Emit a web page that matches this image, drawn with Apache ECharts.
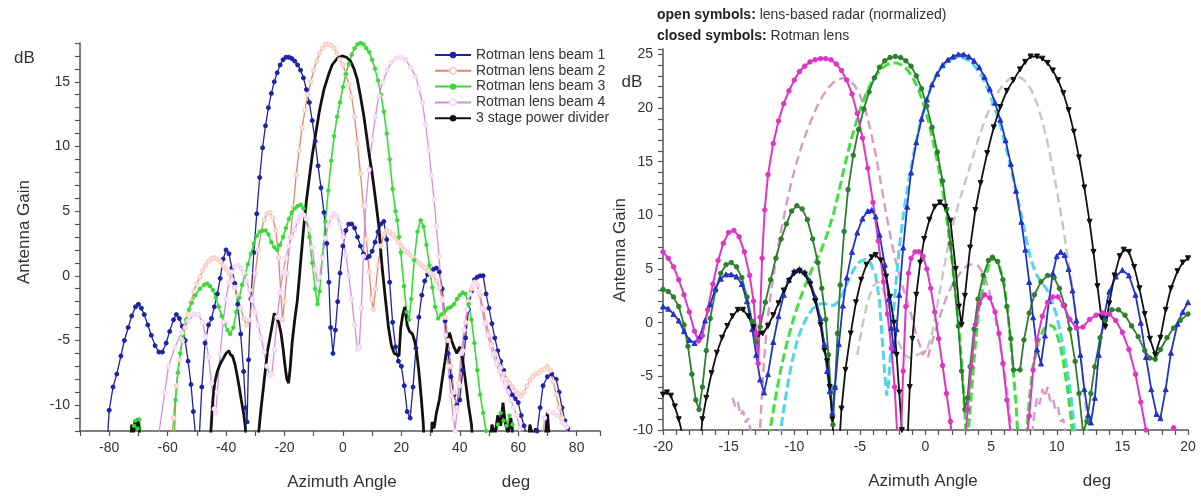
<!DOCTYPE html>
<html>
<head>
<meta charset="utf-8">
<title>Antenna gain vs azimuth</title>
<script src="https://cdn.jsdelivr.net/npm/echarts@6/dist/echarts.min.js"></script>
<style>
  html, body { margin: 0; padding: 0; background: #fff; }
  #chart { width: 1201px; height: 496px; }
</style>
</head>
<body>
<div id="chart"></div>
<script>
// ---- data: left panel, [azimuth deg, gain dB] ----
const leftNames = ["Rotman lens beam 1", "Rotman lens beam 2", "Rotman lens beam 3", "Rotman lens beam 4", "3 stage power divider"];

const leftBeam1 = [[-81,-14],[-80,-10.4],[-78.7,-8.6],[-77.4,-7.6],[-76,-6.2],[-74.8,-5.0],[-73.5,-4.0],[-72.3,-3.1],[-71,-2.4],[-70,-2.2],[-69,-2.5],[-68,-3.0],[-66.8,-3.8],[-65.6,-4.6],[-64.3,-5.4],[-63,-5.9],[-61.8,-5.9],[-60.5,-5.2],[-59.3,-4.3],[-58,-3.4],[-57,-3.0],[-56,-3.3],[-55,-3.9],[-54,-5.0],[-53,-6.6],[-52,-8.4],[-51.2,-10.5],[-50.4,-12.5],
  [-49.5,-14],[-48.3,-8.6],[-47.2,-5.2],[-46,-3.8],[-45,-3.3],[-44,-2.4],[-43,-1.4],[-42,-0.2],[-41,1.3],[-40,2.0],[-39,1.7],[-38,0.6],[-37,-0.6],[-36,-2.2],[-35,-4.5],[-34,-7.4],[-33.3,-10.2],[-32.8,-11.3],
  [-32.3,-6.5],[-31.5,-1.8],[-30.5,1.8],[-29.5,4.8],[-28.5,7.6],[-27.5,9.9],[-26.5,11.6],[-25.5,13.0],[-24.5,14.1],[-23.5,15.0],[-22.5,15.7],[-21.5,16.3],[-20.5,16.7],[-19.5,16.9],[-18.5,16.9],[-17.5,16.8],[-16.5,16.6],[-15.5,16.3],[-14.5,15.9],[-13.5,15.3],[-12.5,14.4],[-11.5,13.4],[-10.5,12.0],[-9.5,10.4],[-8.5,8.5],[-7.5,6.8],[-6.5,4.9],[-5.5,2.5],[-4.8,-0.5],[-4.2,-4.0],[-3.4,-6.0],[-2.6,-4.2],[-1.8,-2.0],[-1,0.2],[0,2.3],[1,3.5],[2,4.0],[3,4.0],[4,3.7],[5,3.0],[6,2.3],[7,1.7],[8,1.4],[9,1.5],[10,1.9],[11,2.6],[12,3.4],[13,4.0],[14,4.2],[15,2.8],[16,-0.5],[17,-3.6],[18,-5.5],[19,-6.6],[20,-7.0],[21,-8.5],[22,-10.5],[23,-11.0],[24,-8.6],[25,-5.6],[26,-3.2],[27,-1.5],[28,-0.4],[29,0.1],[30,0.2],[31,0.5],[32,0.6],[33,0.3],[34,-1.0],[35,-3.5],[36,-6.0],[37,-7.8],[38,-9.2],[39,-10.0],[40,-9.6],[41,-7.3],[42,-4.8],[43,-2.6],[44,-1.2],[45,-0.3],[46,-0.1],[47,0.0],[48,0.0],[49,-1.4],[50,-2.5],[51,-3.7],[52,-4.8],[53,-5.8],[54,-6.6],[55,-7.3],[56,-8.0],[57,-8.6],[58,-9.2],[59,-9.5],[60,-9.8],[61,-10.8],[62,-11.6],[63,-12.5],[64,-14],
  [65.5,-14],[66.5,-12],[67.5,-10.2],[68.5,-8.5],[70,-7.8],[71.5,-7.6],[73,-8.0],[74,-9.0],[75,-10.2],[76,-11.2],[77,-11.8],[78,-12.8]];

const leftBeam2 = [[-59,-14],[-58,-11],[-57,-8.5],[-56,-6.5],[-55,-5],[-54,-4],[-53,-3],[-52,-2],[-51,-1.2],[-50,-0.6],[-49,-0.1],[-48,0.4],[-47,0.8],[-46,1.1],[-45,1.3],[-44,1.4],[-43,1.3],[-42,1.1],[-41,0.8],[-40,0.5],[-39,0.2],[-38,-0.3],[-37,-0.9],[-36,-1.6],[-35,-2.5],[-34,-3.3],[-33,-3.8],[-32,-3.4],[-31,-1.8],[-30,0.2],[-29,2.0],[-28,3.4],[-27,4.3],[-26,4.8],[-25,4.9],[-24,4.5],[-23,3.5],[-22,1.4],[-21.3,-1.2],[-20.7,-3.4],[-20,-2.0],[-19.2,0.2],[-18,3.0],[-17,5.3],[-16,7.8],[-15,9.7],[-14,11.4],[-13,12.8],[-12,14.0],[-11,15.0],[-10,15.9],[-9,16.6],[-8,17.2],[-7,17.6],[-6,17.9],[-5,17.9],[-4,17.8],[-3,17.6],[-2,17.2],[-1,16.7],[0,16.3],[1,15.6],[2,14.8],[3,13.8],[4,12.3],[5,10.2],[6,7.9],[7,5.4],[8,2.8],[9,0.3],[9.8,-1.8],[10.4,-2.6],[11.2,-1.0],[12,0.8],[13,2.3],[14,3.2],[15,3.5],[16,3.4],[17,3.2],[18,2.9],[19,2.6],[20,2.3],[21,2.0],[22,1.8],[23,1.6],[24,1.4],[25,1.2],[26,1.0],[27,0.8],[28,0.6],[29,0.4],[30,0.2],[31,0],[32,-0.4],[33,-0.9],[34,-1.8],[35,-3.2],[36,-5.0],[37,-7.0],[38,-9.0],[39,-10.2],[40,-8.5],[41,-5.8],[42,-3.6],[43,-2.0],[44,-1.0],[45,-0.5],[46,-0.7],[47,-1.5],[48,-2.6],[49,-3.6],[50,-4.5],[51,-5.3],[52,-6.0],[53,-6.6],[54,-7.1],[55,-7.6],[56,-8.0],[57,-8.3],[58,-8.6],[59,-8.9],[60,-9.1],[61,-9.3],[62,-9.0],[63,-8.5],[64,-8.1],[65,-7.8],[66,-7.6],[67,-7.5],[68,-7.3],[69,-7.2],[70,-7.0],[71,-7.3],[72,-8.2],[73,-9.2],[74,-10.2],[75,-11.0],[76,-11.5],[77,-12.5],[78,-14]];

const leftBeam3 = [[-72.5,-14],[-71.5,-11.6],[-71,-11.2],[-70.3,-11.8],[-69.7,-11.1],[-69,-12.5],[-68.5,-14],[-58,-14],[-57.3,-9.6],[-56.5,-7.5],[-55.7,-6.0],[-54.7,-4.6],[-53.7,-3.4],[-52.7,-2.6],[-51.8,-2.1],[-50.5,-1.5],[-49,-1.0],[-47.5,-0.7],[-46.5,-0.6],[-45.5,-0.8],[-44.5,-1.1],[-43.5,-1.7],[-42.5,-2.4],[-41.5,-3.1],[-40.5,-3.7],[-39.5,-4.2],[-38.6,-4.5],[-37.5,-4.0],[-36.5,-2.8],[-35.5,-1.7],[-34.5,-0.7],[-33.5,0.1],[-32.5,0.9],[-31.5,1.7],[-30.5,2.5],[-29.5,3.1],[-28.5,3.4],[-27.5,3.5],[-26.5,3.5],[-25.5,3.2],[-24.5,2.6],[-23.5,2.2],[-22.5,2.0],[-21.5,2.4],[-20.5,3.0],[-19.5,3.7],[-18.5,4.4],[-17.5,4.9],[-16.5,5.2],[-15.5,5.4],[-14.5,5.5],[-13.5,5.2],[-12.5,4.4],[-11.5,3.0],[-10.5,1.0],[-9.5,-1.0],[-8.7,-2.2],[-8,-1.2],[-7,1.5],[-6,4.2],[-5,6.6],[-4,8.9],[-3,10.8],[-2,12.3],[-1,13.4],[0,14.6],[1,15.6],[2,16.4],[3,17.1],[4,17.6],[5,17.9],[6,18.0],[7,17.9],[8,17.6],[9,17.3],[10,16.7],[11,16.0],[12,15.1],[13,14.0],[14,12.7],[15,11.0],[16,9.0],[17,6.7],[18,5.0],[18.6,4.3],[19.2,3.0],[19.8,1.8],[20.9,-0.8],[21.8,-2.8],[22.6,-3.4],[23.4,-1.8],[24.4,1.2],[25.5,3.4],[26.6,4.3],[27.6,3.8],[28.6,2.4],[29.6,0.8],[30.6,-0.9],[31.6,-2.4],[32.6,-3.3],[33.6,-3.0],[35,-2.7],[36,-2.5],[37,-2.4],[38,-2.2],[39,-1.8],[40,-1.5],[41,-1.3],[42,-1.4],[43,-2.2],[44,-3.4],[45,-5.2],[46,-7.3],[47,-9.2],[48,-10.6],[49,-12],[50,-14],[52,-14],[53,-11.5],[54,-10.6],[55,-11.2],[56,-11.6],[57,-10.8],[58,-11.5],[59,-12.5],[60,-14]];

const leftBeam4 = [[-64,-14],[-63,-12.2],[-61,-9.0],[-59.7,-7.0],[-57.5,-5.5],[-55.2,-4.4],[-53,-3.5],[-51,-3.0],[-49.5,-3.0],[-48,-3.6],[-47,-4.7],[-46,-6.3],[-45,-8.3],[-44,-10.3],[-43.5,-10.6],[-43,-9.0],[-42,-6.0],[-41,-3.6],[-40,-1.8],[-39,-0.5],[-38,0.3],[-37,0.7],[-36,0.8],[-35,0.6],[-34,0.2],[-33,-0.4],[-32,-1.1],[-31,-1.9],[-30,-2.8],[-29,-3.8],[-28,-4.8],[-27,-5.9],[-26,-7.0],[-25,-7.7],[-24.3,-7.6],[-23.5,-5.7],[-22.5,-3.2],[-21.5,-1.3],[-20.5,0.3],[-19.5,1.4],[-18.5,2.3],[-17.5,3.0],[-16.5,3.6],[-15.5,4.2],[-14.5,4.6],[-13.5,4.7],[-12.5,4.4],[-11.5,3.6],[-10.5,2.2],[-9.5,0.5],[-8.7,-0.6],[-8,-0.1],[-7,1.4],[-6,2.9],[-5,3.9],[-4,4.5],[-3,4.8],[-2,4.6],[-1,4.0],[0,3.0],[1,1.6],[2,0],[3,-1.8],[4,-3.8],[5,-5.7],[5.6,-5.5],[6.3,-2.5],[7,1.5],[7.8,5.4],[8.9,8.2],[10,10.5],[11.1,12.3],[12.3,13.9],[13.7,15.0],[15.2,15.9],[16.6,16.5],[18,16.8],[19.7,16.9],[21.5,16.7],[23.2,16.1],[24.9,15.4],[26,14.5],[27.2,13.4],[28.3,11.7],[29.4,9.7],[30.3,7.8],[31.2,5.9],[32,3.8],[32.9,1.5],[34,-1.9],[35,-4.6],[36,-7.0],[37,-9.3],[37.8,-11],[38.4,-12],[39,-10.5],[39.6,-8.3],[40.5,-6],[41.5,-4.2],[42.5,-2.6],[43.5,-1.4],[44.5,-0.7],[45.5,-0.6],[46.5,-1.2],[47.5,-2.5],[48.5,-3.7],[49.5,-4.6],[50.5,-5.4],[51.5,-6.1],[52.5,-6.8],[53.5,-7.4],[54.5,-8.0],[55.5,-8.5],[56.5,-9.0],[57.5,-9.6],[58.5,-10.2],[59.5,-10.8],[60.5,-11.8],[61.5,-13],[62,-14],[68,-14],[69,-11],[70.5,-10.5],[72,-10.6],[73.5,-10.8],[75,-11.3],[76.5,-11.7],[77.5,-12.5],[78,-14]];

const leftDivider = [[-73,-14],[-72.3,-11.5],[-71.8,-12.4],[-71.2,-11.2],[-70.7,-11.9],[-70.2,-11.0],[-69.6,-12.2],[-69,-14],
  [-46,-14],[-45.2,-12],[-44.5,-9.5],[-43.9,-8.3],[-43,-7.4],[-42,-6.8],[-41,-6.4],[-40,-6.0],[-39,-5.8],[-38.5,-6.1],[-37.8,-6.2],[-37,-6.8],[-36.3,-7.6],[-35.5,-8.6],[-34.8,-9.6],[-34,-10.6],[-33.4,-11.7],[-33,-14],
  [-29.5,-14],[-28.8,-12],[-28,-10.2],[-27.3,-8.8],[-26.5,-7.2],[-25.8,-5.8],[-25,-4.8],[-24.2,-3.8],[-23.5,-2.9],[-22.8,-3.2],[-22,-3.6],[-21.2,-4.4],[-20.5,-5.6],[-19.8,-7.0],[-19.2,-8.0],[-18.6,-8.3],[-18,-7.0],[-17.4,-5.2],[-16.5,-3.4],[-15.6,-1.9],[-14.5,1.0],[-13.4,3.8],[-12.5,5.8],[-11.6,7.4],[-10.5,9.3],[-9.3,11.0],[-8,12.8],[-6.5,14.4],[-5,15.5],[-3.7,16.3],[-2,16.8],[-0.3,17.0],[1.2,16.9],[2.6,16.6],[3.8,16.0],[4.9,15.2],[6,13.9],[7.2,12.3],[8,11.0],[8.9,9.5],[9.8,8.2],[10.6,6.9],[11.5,5.3],[12.3,3.8],[13.4,0.7],[14.6,-1.9],[15.6,-4.0],[16.6,-5.4],[17.6,-6.0],[18.5,-6.1],[19.2,-6.2],[19.8,-4.0],[20.5,-3.0],[21.2,-2.4],[22,-3.8],[22.8,-4.3],[23.8,-4.5],[24.5,-5.0],[25.2,-5.8],[26,-7.4],[26.8,-9.4],[27.5,-11.4],[28,-14],
  [30,-14],[30.5,-11.3],[31.2,-11.8],[32,-10.6],[33,-9.6],[34,-8.0],[35,-6.5],[36,-4.9],[36.5,-4.4],[37.2,-5.0],[38,-5.5],[39,-6.0],[40,-5.5],[41,-6.5],[42,-8.2],[43,-10.0],[44,-11.5],[44.8,-14],
  [50,-14],[51,-11.5],[52,-12.4],[53,-10.8],[54,-11.6],[54.8,-9.8],[55.5,-11.3],[56.5,-12.2],[57.5,-11.0],[58.2,-12.5],[59,-14],[63,-14],[64,-11.5],[65,-12.5],[66,-11.8],[67,-12.6],[68,-14],[69.5,-12],[70,-10.5],[70.5,-12.2],[71,-14]];

// ---- data: right panel, closed symbols (Rotman lens) ----
const rightMagenta = [[-20,6.6],[-19.6,6.0],[-19.2,5.2],[-18.8,4.0],[-18.4,2.6],[-18,1.0],[-17.6,-0.8],[-17.3,-1.7],[-17,-1.2],[-16.6,1.2],[-16.2,3.6],[-15.8,5.8],[-15.4,7.4],[-15,8.4],[-14.6,8.6],[-14.2,8.0],[-13.8,6.6],[-13.4,4.4],[-13.1,2.0],[-12.9,-1.0],[-12.75,-3.8],[-12.6,0.5],[-12.45,6.0],[-12.25,10.5],[-12,13.8],[-11.6,16.7],[-11.2,18.8],[-10.8,20.4],[-10.4,21.6],[-10,22.6],[-9.6,23.4],[-9.2,23.9],[-8.8,24.3],[-8.4,24.5],[-8,24.6],[-7.6,24.6],[-7.2,24.5],[-6.8,24.1],[-6.4,23.5],[-6,22.6],[-5.6,21.3],[-5.2,19.5],[-4.8,17.2],[-4.4,14.4],[-4,11.2],[-3.6,7.6],[-3.2,3.8],[-2.9,0.8],[-2.6,-2.4],[-2.35,-6.0],[-2.15,-10.5],[-2,-14],
  [-1.9,-12],[-1.7,-4.5],[-1.5,1.5],[-1.3,4.6],[-1.1,6.0],[-0.8,6.6],[-0.5,6.6],[-0.2,6.2],[0.1,5.0],[0.4,3.2],[0.7,1.0],[1,-1.5],[1.3,-4.0],[1.6,-6.6],[1.9,-9.2],[2.1,-12],
  [3,-12],[3.2,-8.1],[3.5,-4.1],[3.8,-0.2],[4.1,1.8],[4.5,2.6],[4.9,2.3],[5.3,1.0],[5.6,-1.0],[5.9,-3.8],[6.2,-7.2],[6.5,-10.5],[6.7,-12],
  [7.6,-12],[7.9,-8.7],[8.2,-4.4],[8.5,-1.6],[8.9,0.6],[9.3,1.9],[9.7,2.4],[10.1,2.4],[10.5,1.6],[11,0.3],[11.5,-0.5],[12,-0.4],[12.5,0.3],[13,0.7],[13.5,0.9],[14,0.8],[14.5,0.2],[15,-0.9],[15.5,-2.5],[16,-4.8],[16.4,-7.4],[16.8,-10.0],[17.2,-13],
  [18.6,-13],[18.75,-10.5],[18.9,-9.8],[19.05,-10.5],[19.2,-13]];

const rightGreen = [[-20,3.1],[-19.6,2.9],[-19.2,2.4],[-18.8,1.5],[-18.4,-0.2],[-18.1,-2.2],[-17.8,-4.8],[-17.5,-7.2],[-17.25,-8.1],[-17,-6.0],[-16.7,-2.6],[-16.4,0.4],[-16,3.0],[-15.6,4.6],[-15.2,5.4],[-14.8,5.6],[-14.4,5.2],[-14,4.2],[-13.6,2.4],[-13.2,0.1],[-12.9,-1.8],[-12.6,-0.4],[-12.2,1.9],[-11.8,4.0],[-11.4,6.0],[-11,7.8],[-10.6,9.2],[-10.2,10.4],[-9.8,10.9],[-9.4,10.6],[-9,9.6],[-8.6,7.8],[-8.2,5.6],[-7.9,3.2],[-7.6,0.3],[-7.4,-3.0],[-7.2,-6.5],[-7.05,-9.5],[-6.9,-6.0],[-6.7,-1.0],[-6.5,3.5],[-6.2,8.5],[-5.9,12.4],[-5.5,15.6],[-5.1,18.0],[-4.7,19.9],[-4.3,21.5],[-3.9,22.8],[-3.5,23.8],[-3.1,24.4],[-2.7,24.7],[-2.3,24.8],[-1.9,24.7],[-1.5,24.4],[-1.1,23.9],[-0.7,23.0],[-0.3,21.8],[0.1,20.2],[0.5,18.2],[0.9,15.9],[1.3,13.2],[1.6,10.6],[1.9,7.4],[2.2,3.6],[2.5,-0.3],[2.75,-4.5],[3,-8.1],[3.2,-7.0],[3.4,-4.1],[3.7,-0.6],[4,2.2],[4.4,4.4],[4.8,5.8],[5.1,6.1],[5.5,5.7],[5.9,4.0],[6.2,1.5],[6.5,-1.5],[6.7,-4.4],[7.2,-4.4],[7.5,-1.6],[7.9,0.9],[8.3,2.6],[8.8,3.8],[9.3,4.4],[9.8,4.2],[10.2,3.2],[10.6,1.6],[11,-0.6],[11.4,-3.6],[11.7,-6.6],[12,-10.2],
  [12.3,-9.2],[12.6,-6.6],[12.9,-4.1],[13.3,-1.4],[13.7,0.2],[14.2,1.2],[14.7,1.2],[15.2,0.7],[15.7,-0.3],[16.2,-1.3],[16.7,-2.6],[17.1,-3.3],[17.5,-3.4],[17.9,-2.5],[18.4,-1.4],[18.9,-0.5],[19.4,0.2],[20,0.8]];

const rightBlue = [[-20,1.5],[-19.6,1.3],[-19.2,0.8],[-18.8,0.2],[-18.4,-0.8],[-18,-1.6],[-17.6,-1.9],[-17.2,-1.3],[-16.8,0.2],[-16.4,1.7],[-16,3.2],[-15.6,4.1],[-15.2,4.5],[-14.8,4.5],[-14.4,4.3],[-14,3.6],[-13.6,2.0],[-13.2,-0.6],[-12.9,-3.0],[-12.6,-5.3],[-12.3,-6.5],[-12,-4.8],[-11.6,-1.8],[-11.2,0.6],[-10.8,2.6],[-10.4,4.0],[-10,4.8],[-9.6,5.0],[-9.2,4.7],[-8.8,3.9],[-8.4,2.4],[-8,0.4],[-7.7,-2.0],[-7.5,-4.5],[-7.3,-6.4],[-7.1,-8.4],[-6.9,-6.0],[-6.6,-2.0],[-6.3,1.6],[-6,4.2],[-5.6,6.6],[-5.2,8.4],[-4.8,9.7],[-4.4,10.4],[-4.1,10.5],[-3.8,9.9],[-3.5,8.2],[-3.1,5.4],[-2.8,2.2],[-2.6,-0.5],[-2.4,-2.6],[-2.2,-0.6],[-2,2.6],[-1.7,7.0],[-1.4,10.8],[-1.1,14.0],[-0.7,16.8],[-0.3,19.0],[0.1,20.8],[0.5,22.2],[0.9,23.2],[1.3,24.0],[1.7,24.5],[2.1,24.8],[2.5,25.0],[2.9,25.0],[3.3,24.8],[3.7,24.4],[4.1,23.8],[4.5,22.9],[4.9,21.8],[5.3,20.5],[5.7,18.9],[6.1,17.0],[6.5,14.8],[6.9,12.3],[7.3,9.4],[7.6,6.8],[7.9,3.8],[8.2,0.5],[8.5,-2.5],[8.8,-3.8],[9.1,-1.2],[9.4,2.0],[9.7,4.6],[10,6.2],[10.3,6.6],[10.6,6.3],[10.9,5.0],[11.2,3.0],[11.5,0.2],[11.8,-3.0],[12.1,-6.2],[12.4,-8.6],[12.6,-9.3],[12.9,-7.0],[13.2,-3.0],[13.6,0.6],[14,2.9],[14.5,4.3],[15,4.9],[15.5,4.4],[16,2.6],[16.4,0.0],[16.8,-3.2],[17.2,-6.2],[17.6,-8.5],[17.9,-8.9],[18.3,-6.2],[18.7,-2.8],[19.2,-0.1],[19.6,1.0],[20,1.9]];

const rightBlack = [[-20,-6.7],[-19.7,-6.5],[-19.4,-6.8],[-19.1,-7.8],[-18.8,-9.0],[-18.5,-10.5],[-18.3,-12],
  [-17.2,-12],[-17,-9.0],[-16.7,-7.0],[-16.3,-4.7],[-15.9,-2.8],[-15.5,-1.4],[-15.1,-0.3],[-14.7,0.6],[-14.3,1.2],[-13.9,1.2],[-13.5,0.6],[-13.1,-0.4],[-12.7,-1.1],[-12.4,-1.0],[-12,-0.3],[-11.6,0.7],[-11.2,1.8],[-10.8,3.0],[-10.4,3.9],[-10,4.6],[-9.6,4.8],[-9.2,4.5],[-8.8,3.6],[-8.4,2.0],[-8,-0.2],[-7.7,-2.6],[-7.5,-3.6],[-7.3,-6.0],[-7.1,-9.0],[-6.95,-12],
  [-6.6,-12],[-6.4,-8.0],[-6.1,-4.4],[-5.7,-1.0],[-5.3,1.9],[-4.9,4.0],[-4.5,5.4],[-4.1,6.1],[-3.8,6.3],[-3.4,5.8],[-3,4.3],[-2.7,2.4],[-2.4,0.0],[-2.2,-3.0],[-2,-6.5],[-1.8,-10.0],[-1.7,-12],
  [-1.4,-12],[-1.2,-6.0],[-1,-1.5],[-0.7,2.6],[-0.4,5.6],[-0.1,7.8],[0.3,9.6],[0.7,10.8],[1.1,11.2],[1.5,10.8],[1.9,9.5],[2.3,5.0],[2.55,1.5],[2.75,-0.2],[3,2.5],[3.4,7.0],[3.8,10.5],[4.2,13.0],[4.7,15.8],[5.2,18.2],[5.7,20.1],[6.2,21.6],[6.7,22.6],[7.2,23.6],[7.6,24.3],[8,24.8],[8.5,24.8],[8.9,24.6],[9.3,24.2],[9.7,23.5],[10.1,22.6],[10.5,21.4],[10.9,19.8],[11.3,17.8],[11.7,15.4],[12.1,12.6],[12.5,9.4],[12.8,6.6],[13.1,3.4],[13.4,0.5],[13.7,-0.4],[14,1.8],[14.4,4.4],[14.8,6.2],[15.1,6.8],[15.5,6.6],[15.9,5.2],[16.3,3.2],[16.7,0.8],[17.1,-1.5],[17.5,-3.0],[17.9,-1.4],[18.3,1.2],[18.7,3.2],[19.2,4.8],[19.6,5.6],[20,6.0]];

// ---- data: right panel, open symbols (lens-based radar, normalized) ----
const rightPinkOpen = [[-14.7,-7.0],[-14.5,-7.8],[-14.3,-7.4],[-14.1,-8.6],[-13.9,-8.2],[-13.7,-9.3],[-13.5,-8.9],[-13.3,-10.2],[-13.1,-12],
  [-12.7,-12],[-12.5,-7.5],[-12.3,-3.5],[-12.1,-0.5],[-11.8,2.6],[-11.4,5.8],[-11,8.6],[-10.6,11.0],[-10.2,13.2],[-9.8,15.0],[-9.4,16.6],[-9,18.0],[-8.6,19.2],[-8.2,20.3],[-7.8,21.2],[-7.4,21.9],[-7,22.4],[-6.6,22.7],[-6.2,22.8],[-5.8,22.6],[-5.4,22.1],[-5,21.2],[-4.6,19.9],[-4.2,18.0],[-3.8,15.7],[-3.4,13.0],[-3,10.2],[-2.6,7.6],[-2.2,5.4],[-1.8,3.6],[-1.4,2.0],[-1,0.4],[-0.7,-1.2],[-0.4,-2.2],[-0.2,-3.0],[0,-2.6],[0.2,-3.2],[0.4,-2.2],[0.8,-0.6],[1.2,1.0],[1.6,2.4],[2,3.4],[2.4,4.2],[2.8,4.9],[3.2,5.3],[3.6,5.5],[4,5.3],[4.4,4.6],[4.8,3.2],[5.2,1.2],[5.6,-1.4],[6,-4.4],[6.3,-7.2],[6.6,-10.5],[6.8,-12],
  [8,-12],[8.3,-8.4],[8.5,-7.0],[8.7,-7.6],[8.9,-6.2],[9.1,-6.9],[9.3,-6.0],[9.5,-7.3],[9.7,-7.0],[9.9,-8.2],[10.1,-7.9],[10.3,-9.2],[10.5,-9.0],[10.7,-10.5],[10.9,-12]];

const rightGrayOpen = [[-5.2,-3.0],[-4.8,-0.2],[-4.4,2.0],[-4,3.4],[-3.6,3.8],[-3.2,3.0],[-2.8,1.4],[-2.4,-0.4],[-2,-2.0],[-1.6,-3.0],[-1.2,-3.3],[-0.8,-3.1],[-0.3,-2.8],[0.1,-2.6],[0.5,-1.0],[0.9,1.6],[1.3,4.4],[1.7,7.0],[2.1,9.2],[2.5,11.0],[2.9,12.6],[3.3,14.2],[3.7,15.8],[4.1,17.4],[4.5,18.8],[4.9,20.0],[5.3,21.0],[5.7,21.8],[6.1,22.4],[6.5,22.8],[6.9,22.9],[7.3,22.8],[7.7,22.4],[8.1,21.6],[8.5,20.4],[8.9,18.8],[9.3,16.8],[9.7,14.4],[10.1,11.7],[10.5,8.8],[10.9,5.6],[11.3,2.3],[11.6,-0.6],[11.9,-4.0],[12.2,-8.0],[12.4,-12]];

const rightGreenOpen = [[-12.2,-12],[-11.8,-9.7],[-11.4,-6.8],[-11,-4.2],[-10.5,-1.6],[-10,0.6],[-9.5,2.4],[-9,4.0],[-8.5,5.4],[-8,6.6],[-7.5,8.2],[-7,10.2],[-6.6,12.2],[-6.2,14.4],[-5.8,16.4],[-5.4,18.2],[-5,19.8],[-4.6,21.1],[-4.2,22.2],[-3.8,23.0],[-3.4,23.6],[-3,24.0],[-2.6,24.2],[-2.2,24.2],[-1.8,24.0],[-1.4,23.6],[-1,22.9],[-0.6,21.9],[-0.2,20.6],[0.2,18.9],[0.6,16.8],[1,14.4],[1.4,11.6],[1.7,9.0],[2,6.0],[2.3,2.6],[2.6,-1.2],[2.8,-4.6],[3,-8.4],[3.15,-12],
  [3.3,-12],[3.5,-6.5],[3.8,-2.0],[4.1,1.6],[4.5,4.0],[4.9,5.6],[5.2,6.0],[5.6,5.4],[6,3.6],[6.3,0.6],[6.6,-3.2],[6.9,-7.6],[7.1,-12],
  [7.6,-12],[7.9,-7.2],[8.2,-4.0],[8.6,-1.8],[9,-0.6],[9.4,-0.2],[9.8,-0.4],[10.2,-1.8],[10.5,-3.6],[10.8,-6.0],[11.1,-9.0],[11.3,-12]];

const rightCyanOpen = [[-11.4,-12],[-11,-9.7],[-10.6,-6.5],[-10.2,-3.8],[-9.8,-1.8],[-9.4,-0.4],[-9,0.6],[-8.6,1.3],[-8.2,1.7],[-7.8,1.8],[-7.4,1.7],[-7,1.6],[-6.6,2.0],[-6.2,3.0],[-5.8,4.2],[-5.4,5.1],[-5,5.7],[-4.6,5.9],[-4.2,5.6],[-3.8,4.4],[-3.5,2.0],[-3.3,-1.5],[-3.1,-4.8],[-2.95,-6.8],[-2.8,-5.5],[-2.6,-1.5],[-2.3,3.0],[-2,7.0],[-1.6,10.8],[-1.2,13.8],[-0.8,16.4],[-0.4,18.6],[0,20.4],[0.4,21.9],[0.8,23.0],[1.2,23.8],[1.6,24.3],[2,24.6],[2.4,24.7],[2.8,24.7],[3.2,24.5],[3.6,24.1],[4,23.5],[4.4,22.7],[4.8,21.6],[5.2,20.3],[5.6,18.8],[6,17.0],[6.4,15.0],[6.8,12.8],[7.2,10.6],[7.6,8.2],[8,6.0],[8.4,4.6],[8.8,3.8],[9.2,3.2],[9.6,2.2],[10,0.6],[10.4,-1.6],[10.8,-4.4],[11.1,-7.0],[11.4,-10.5],[11.5,-12]];

// axis tick labels
const leftXLabels = [-80, -60, -40, -20, 0, 20, 40, 60, 80];
const leftYLabels = [-10, -5, 0, 5, 10, 15];
const rightXLabels = [-20, -15, -10, -5, 0, 5, 10, 15, 20];
const rightYLabels = [-10, -5, 0, 5, 10, 15, 20, 25];

const FONT = "'Liberation Sans', Arial, sans-serif";
const TXT = "#333";

function axisBase() {
  return {
    type: "value",
    splitLine: { show: false },
    axisLine: { show: true, onZero: false, lineStyle: { color: "#555", width: 1.5 } },
    axisTick: { show: true, length: 5, lineStyle: { color: "#555", width: 1.2 } },
    axisLabel: { color: TXT, fontSize: 14, fontFamily: FONT, margin: 10 },
  };
}
function onlyLabels(list) {
  return (v) => (list.indexOf(Math.round(v * 100) / 100) >= 0 ? String(v) : "");
}

function lineSeries(name, data, color, opts) {
  return Object.assign(
    {
      name: name,
      type: "line",
      data: data,
      color: color,
      showSymbol: true,
      symbol: "circle",
      symbolSize: 4,
      clip: true,
      animation: false,
      lineStyle: { color: color, width: 1.3 },
      itemStyle: { color: color, borderColor: color },
      emphasis: { disabled: true },
    },
    opts || {}
  );
}

let myChart = echarts.init(document.getElementById("chart"), null, { renderer: "canvas" });

let option = {
  backgroundColor: "#fff",
  animation: false,
  grid: [
    { left: 80, right: 601, top: 43, bottom: 65 },
    { left: 663, right: 13, top: 49, bottom: 66 },
  ],
  xAxis: [
    Object.assign(axisBase(), { gridIndex: 0, min: -90, max: 88, interval: 10,
      axisLabel: Object.assign(axisBase().axisLabel, { formatter: onlyLabels(leftXLabels) }) }),
    Object.assign(axisBase(), { gridIndex: 1, min: -20, max: 20, interval: 1,
      axisLabel: Object.assign(axisBase().axisLabel, { formatter: onlyLabels(rightXLabels) }) }),
  ],
  yAxis: [
    Object.assign(axisBase(), { gridIndex: 0, min: -12, max: 18, interval: 1,
      axisLabel: Object.assign(axisBase().axisLabel, { formatter: onlyLabels(leftYLabels) }) }),
    Object.assign(axisBase(), { gridIndex: 1, min: -10, max: 25.5, interval: 1,
      axisLabel: Object.assign(axisBase().axisLabel, { formatter: onlyLabels(rightYLabels) }) }),
  ],
  legend: {
    data: leftNames,
    orient: "vertical",
    left: 434,
    top: 48,
    padding: 0,
    itemWidth: 36,
    itemHeight: 8,
    itemGap: 1.8,
    selectedMode: false,
    textStyle: { color: TXT, fontSize: 14, fontFamily: FONT, lineHeight: 14 },
  },
  series: [
    // left panel
    lineSeries(leftNames[0], leftBeam1, "#1e22a8", { symbolSize: 4 }),
    lineSeries(leftNames[1], leftBeam2, "#e8806c", { symbol: "emptyCircle", symbolSize: 3.5,
      itemStyle: { color: "#f7d3cb", borderColor: "#e8806c", borderWidth: 1 } }),
    lineSeries(leftNames[2], leftBeam3, "#34dc34", { symbolSize: 3.5, lineStyle: { color: "#34dc34", width: 1.6 } }),
    lineSeries(leftNames[3], leftBeam4, "#d88cd8", { symbol: "emptyCircle", symbolSize: 3.5,
      itemStyle: { color: "#f4daf4", borderColor: "#d88cd8", borderWidth: 1 } }),
    lineSeries(leftNames[4], leftDivider, "#111", { showSymbol: false, symbol: "none", lineStyle: { color: "#111", width: 2.8 } }),

    // right panel, open symbols (dashed)
    lineSeries("radar gray", rightGrayOpen, "#c6c6c6", { xAxisIndex: 1, yAxisIndex: 1, showSymbol: false, symbol: "none",
      lineStyle: { color: "#c6c6c6", width: 2.4, type: [9, 5] } }),
    lineSeries("radar pink", rightPinkOpen, "#d99ac8", { xAxisIndex: 1, yAxisIndex: 1, showSymbol: false, symbol: "none",
      lineStyle: { color: "#d99ac8", width: 2.4, type: [9, 5] } }),
    lineSeries("radar cyan", rightCyanOpen, "#4fd6ee", { xAxisIndex: 1, yAxisIndex: 1, showSymbol: false, symbol: "none",
      lineStyle: { color: "#4fd6ee", width: 3, type: [9, 4] } }),
    lineSeries("radar green", rightGreenOpen, "#3fe03f", { xAxisIndex: 1, yAxisIndex: 1, showSymbol: false, symbol: "none",
      lineStyle: { color: "#3fe03f", width: 3, type: [9, 4] } }),

    // right panel, closed symbols
    lineSeries("lens green", rightGreen, "#2c7f2c", { xAxisIndex: 1, yAxisIndex: 1, symbolSize: 4.5,
      lineStyle: { color: "#2c7f2c", width: 1.8 } }),
    lineSeries("lens blue", rightBlue, "#2233cc", { xAxisIndex: 1, yAxisIndex: 1, symbol: "triangle", symbolSize: 5,
      lineStyle: { color: "#2233cc", width: 1.8 } }),
    lineSeries("lens black", rightBlack, "#111", { xAxisIndex: 1, yAxisIndex: 1, symbol: "triangle", symbolRotate: 180, symbolSize: 5,
      lineStyle: { color: "#111", width: 1.8 } }),
    lineSeries("lens magenta", rightMagenta, "#e034c4", { xAxisIndex: 1, yAxisIndex: 1, symbolSize: 4.5,
      lineStyle: { color: "#e034c4", width: 2 } }),
  ],
  graphic: [
    { type: "text", left: 14, top: 50, style: { text: "dB", fill: TXT, font: "17px " + FONT } },
    { type: "text", x: 24, y: 232, rotation: Math.PI / 2,
      style: { text: "Antenna Gain", fill: TXT, font: "17px " + FONT, textAlign: "center", textVerticalAlign: "middle" } },
    { type: "text", x: 342, y: 482, style: { text: "Azimuth Angle", fill: TXT, font: "17px " + FONT, textAlign: "center", textVerticalAlign: "middle" } },
    { type: "text", x: 516, y: 482, style: { text: "deg", fill: TXT, font: "17px " + FONT, textAlign: "center", textVerticalAlign: "middle" } },
    { type: "text", x: 632, y: 82, style: { text: "dB", fill: TXT, font: "17px " + FONT, textAlign: "center", textVerticalAlign: "middle" } },
    { type: "text", x: 620, y: 250, rotation: Math.PI / 2,
      style: { text: "Antenna Gain", fill: TXT, font: "17px " + FONT, textAlign: "center", textVerticalAlign: "middle" } },
    { type: "text", x: 923, y: 481, style: { text: "Azimuth Angle", fill: TXT, font: "17px " + FONT, textAlign: "center", textVerticalAlign: "middle" } },
    { type: "text", x: 1097, y: 481, style: { text: "deg", fill: TXT, font: "17px " + FONT, textAlign: "center", textVerticalAlign: "middle" } },
    { type: "text", left: 657, top: 8, style: { text: "{b|open symbols:} lens-based radar (normalized)", fill: TXT, font: "14px " + FONT,
      rich: { b: { fontWeight: "bold", fontSize: 14, fontFamily: FONT, fill: "#222" } } } },
    { type: "text", left: 657, top: 29, style: { text: "{b|closed symbols:} Rotman lens", fill: TXT, font: "14px " + FONT,
      rich: { b: { fontWeight: "bold", fontSize: 14, fontFamily: FONT, fill: "#222" } } } },
  ],
};

myChart.setOption(option);
</script>
</body>
</html>
